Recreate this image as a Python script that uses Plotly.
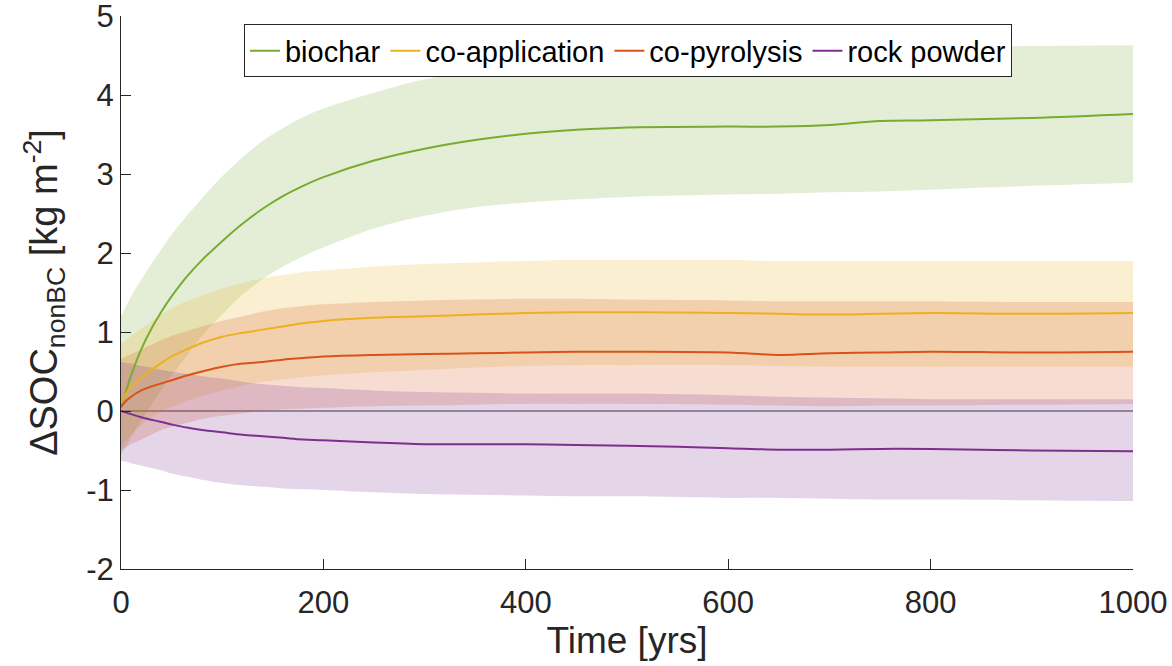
import plotly.graph_objects as go

# Time axis (years)
years = [0, 5, 10, 20, 30, 40, 50, 65, 80, 100, 120, 140, 160, 180, 200,
         250, 300, 350, 400, 450, 500, 600, 650, 700, 750, 800, 900, 1000]

# biochar
biochar_mean = [0.05, 0.25, 0.45, 0.78, 1.04, 1.26, 1.45, 1.7, 1.91, 2.15, 2.37, 2.56, 2.72, 2.85, 2.96,
                3.17, 3.32, 3.43, 3.51, 3.56, 3.59, 3.60, 3.60, 3.62, 3.67, 3.68, 3.71, 3.76]
biochar_upper = [1.2, 1.33, 1.45, 1.66, 1.86, 2.05, 2.23, 2.47, 2.69, 2.97, 3.21, 3.42, 3.58, 3.72, 3.83,
                 4.03, 4.2, 4.31, 4.4, 4.46, 4.5, 4.55, 4.56, 4.57, 4.58, 4.6, 4.62, 4.63]
biochar_lower = [-0.55, -0.45, -0.33, -0.12, 0.08, 0.27, 0.45, 0.7, 0.95, 1.22, 1.47, 1.67, 1.83, 1.96, 2.07,
                 2.31, 2.47, 2.58, 2.64, 2.68, 2.71, 2.74, 2.75, 2.77, 2.78, 2.8, 2.85, 2.89]

# co-application
coapp_mean = [0.1, 0.22, 0.3, 0.42, 0.52, 0.61, 0.69, 0.78, 0.86, 0.94, 0.99, 1.03, 1.07, 1.11, 1.14,
              1.18, 1.2, 1.22, 1.24, 1.25, 1.25, 1.24, 1.23, 1.22, 1.23, 1.24, 1.23, 1.24]
coapp_upper = [0.85, 0.9, 0.95, 1.04, 1.13, 1.22, 1.3, 1.39, 1.46, 1.55, 1.62, 1.68, 1.72, 1.76, 1.78,
               1.83, 1.86, 1.88, 1.9, 1.91, 1.91, 1.91, 1.9, 1.9, 1.9, 1.9, 1.9, 1.9]
coapp_lower = [-0.45, -0.37, -0.3, -0.18, -0.08, 0.0, 0.05, 0.13, 0.19, 0.26, 0.32, 0.37, 0.4, 0.43, 0.45,
               0.49, 0.52, 0.55, 0.57, 0.58, 0.58, 0.58, 0.57, 0.56, 0.56, 0.56, 0.56, 0.56]

# co-pyrolysis
copyr_mean = [0.05, 0.13, 0.18, 0.26, 0.31, 0.35, 0.39, 0.45, 0.5, 0.56, 0.6, 0.62, 0.65, 0.67, 0.69,
              0.71, 0.72, 0.73, 0.74, 0.75, 0.75, 0.74, 0.71, 0.73, 0.74, 0.75, 0.74, 0.75]
copyr_upper = [0.66, 0.69, 0.72, 0.78, 0.84, 0.9, 0.95, 1.01, 1.07, 1.14, 1.2, 1.26, 1.3, 1.33, 1.35,
               1.38, 1.4, 1.41, 1.42, 1.42, 1.41, 1.4, 1.39, 1.39, 1.39, 1.39, 1.38, 1.38]
copyr_lower = [-0.5, -0.46, -0.42, -0.36, -0.3, -0.24, -0.2, -0.15, -0.1, -0.06, -0.03, 0.0, 0.02, 0.03, 0.04,
               0.06, 0.07, 0.08, 0.09, 0.09, 0.09, 0.08, 0.07, 0.06, 0.07, 0.07, 0.08, 0.09]

# rock powder
rock_mean = [0.0, -0.02, -0.04, -0.08, -0.11, -0.14, -0.17, -0.21, -0.24, -0.27, -0.3, -0.32, -0.34, -0.36, -0.37,
             -0.4, -0.42, -0.42, -0.42, -0.43, -0.44, -0.47, -0.49, -0.49, -0.48, -0.48, -0.5, -0.51]
rock_upper = [0.62, 0.61, 0.6, 0.57, 0.55, 0.52, 0.5, 0.47, 0.44, 0.41, 0.37, 0.34, 0.32, 0.3, 0.29,
              0.26, 0.24, 0.23, 0.22, 0.22, 0.22, 0.2, 0.18, 0.17, 0.16, 0.15, 0.15, 0.15]
rock_lower = [-0.63, -0.64, -0.66, -0.69, -0.72, -0.75, -0.79, -0.83, -0.87, -0.91, -0.94, -0.96, -0.98, -0.99, -1.0,
              -1.03, -1.05, -1.06, -1.07, -1.08, -1.08, -1.1, -1.1, -1.11, -1.12, -1.12, -1.13, -1.14]

names = ["biochar", "co-application", "co-pyrolysis", "rock powder"]
colors = [(119, 172, 48), (237, 177, 32), (217, 83, 25), (126, 47, 142)]
means = [biochar_mean, coapp_mean, copyr_mean, rock_mean]
uppers = [biochar_upper, coapp_upper, copyr_upper, rock_upper]
lowers = [biochar_lower, coapp_lower, copyr_lower, rock_lower]

x_ticks = [0, 200, 400, 600, 800, 1000]
y_ticks = [-2, -1, 0, 1, 2, 3, 4, 5]
y_ticktext = ["-2", "-1", "0", "1", "2", "3", "4", "5"]

FONT = "Liberation Sans, Arial, Helvetica, sans-serif"
SMOOTH = 1.0
fig = go.Figure()

for name, c, up, lo in zip(names, colors, uppers, lowers):
    fill = "rgba(%d,%d,%d,0.2)" % c
    fig.add_trace(go.Scatter(x=years, y=lo, mode="lines", line=dict(width=0, shape="spline", smoothing=SMOOTH),
                             showlegend=False, hoverinfo="skip"))
    fig.add_trace(go.Scatter(x=years, y=up, mode="lines", line=dict(width=0, shape="spline", smoothing=SMOOTH),
                             fill="tonexty", fillcolor=fill, showlegend=False, hoverinfo="skip"))

for name, c, m in zip(names, colors, means):
    fig.add_trace(go.Scatter(x=years, y=m, mode="lines", name=name,
                             line=dict(color="rgb(%d,%d,%d)" % c, width=2, shape="spline", smoothing=SMOOTH)))

axis_color = "#262626"
fig.update_layout(
    width=1172, height=666,
    margin=dict(l=121, r=39, t=16, b=97),
    paper_bgcolor="white", plot_bgcolor="white",
    font=dict(family=FONT, color=axis_color),
    legend=dict(orientation="h", x=0.1215, y=0.985, xanchor="left", yanchor="top",
                traceorder="normal",
                bgcolor="white", bordercolor=axis_color, borderwidth=1,
                font=dict(size=29, color="black", family=FONT),
                itemwidth=30, tracegroupgap=0),
    xaxis=dict(range=[0, 1000], tickvals=x_ticks, automargin=False,
               ticks="inside", ticklen=10, tickcolor=axis_color, tickwidth=1,
               showline=True, linecolor=axis_color, linewidth=1, mirror=False,
               showgrid=False, zeroline=False, ticklabelstandoff=6, ticklabeloverflow="allow",
               tickfont=dict(size=31, color=axis_color),
               title=dict(text="Time [yrs]", font=dict(size=37, color=axis_color), standoff=2)),
    yaxis=dict(range=[-2, 5], tickvals=y_ticks, ticktext=y_ticktext, automargin=False,
               ticks="inside", ticklen=10, tickcolor=axis_color, tickwidth=1,
               showline=True, linecolor=axis_color, linewidth=1, mirror=False,
               showgrid=False, zeroline=True, zerolinecolor="#9a9a9a", zerolinewidth=1.5,
               ticklabeloverflow="allow",
               tickfont=dict(size=31, color=axis_color),
               title=dict(text="ΔSOC<sub>nonBC</sub> [kg m<sup>-2</sup>]", font=dict(size=38, color=axis_color), standoff=16)),
)

fig.write_html("out.html")
